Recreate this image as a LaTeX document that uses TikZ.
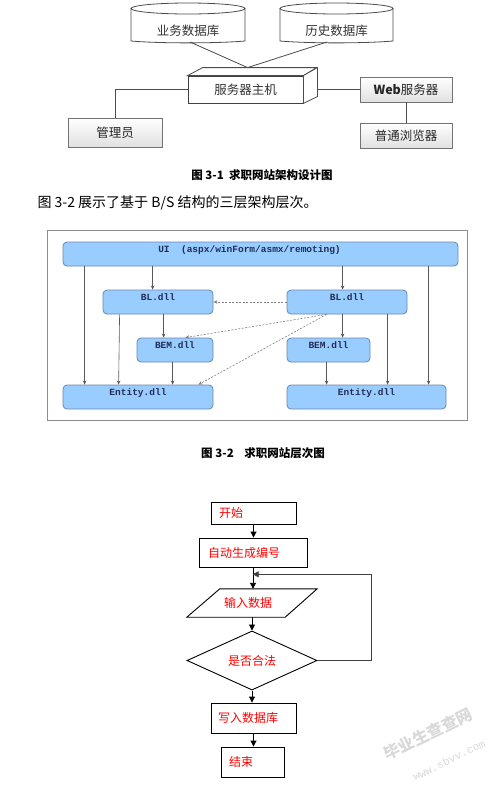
\documentclass[tikz,border=0pt]{standalone}
\usepackage{fontspec}
\usepackage{tikz}
\usetikzlibrary{shapes.geometric,arrows.meta,calc}
\newfontfamily\cjk{Noto Sans CJK SC}
\newfontfamily\mono{Liberation Mono}
\definecolor{layerblue}{RGB}{153,204,255}
\definecolor{layeredge}{RGB}{105,135,175}
\definecolor{layertext}{RGB}{35,45,85}
\tikzset{
  grayline/.style={draw=black!70, line width=0.8pt},
  dbtext/.style={font=\cjk\fontsize{12.5}{12.5}\selectfont, text=black!80},
  hostbox/.style={draw=black!75, line width=0.8pt, fill=white, minimum width=115pt,
    minimum height=27pt, inner sep=0pt, font=\cjk\fontsize{12.5}{12.5}\selectfont, text=black!80},
  greybox/.style={draw=black!55, line width=0.8pt, top color=white, bottom color=black!12,
    minimum width=92pt, minimum height=25pt, inner sep=0pt,
    font=\cjk\fontsize{12.5}{12.5}\selectfont, text=black!85},
  caption/.style={font=\cjk\bfseries\fontsize{11.5}{11.5}\selectfont},
  layerbox/.style={draw=layeredge, line width=0.8pt, fill=layerblue, rounded corners=4pt,
    minimum height=24pt, inner ysep=0pt, text height=6pt, text depth=9pt,
    font=\mono\bfseries\fontsize{9.5}{9.5}\selectfont, text=layertext},
  arr/.style={draw=black!65, line width=0.6pt, -{Stealth[length=4pt,width=3.5pt]}},
  dasharr/.style={arr, draw=black!50, dash pattern=on 2pt off 1.5pt},
  flowbox/.style={draw=black, line width=0.9pt, inner ysep=0pt, align=left, text=red,
    font=\cjk\fontsize{12}{12}\selectfont},
  flowarr/.style={draw=black, line width=0.9pt, -{Triangle[length=6pt,width=6pt]}}
}
\begin{document}
\begin{tikzpicture}[x=1pt,y=-1pt]
\useasboundingbox[fill=white] (0,0) rectangle (498,788);

% fig 3-1
\draw[grayline, fill=white] (131,8.5) -- (131,41) .. controls (160,43.5) and (216,43.5) .. (245,41) -- (245,8.5);
\draw[grayline, fill=white] (188,8.5) ellipse [x radius=57, y radius=5.5];
\draw[grayline, fill=white] (280,8.5) -- (280,41) .. controls (309,43.5) and (364,43.5) .. (393,41) -- (393,8.5);
\draw[grayline, fill=white] (336.5,8.5) ellipse [x radius=56.5, y radius=5.5];
\node[dbtext] (db1) at (188,31) {业务数据库};
\node[dbtext] (db2) at (336.5,31) {历史数据库};
\coordinate (db1foot) at (190,42);
\coordinate (db2foot) at (327,42);

\node[hostbox] (host) at (245.5,89.5) {服务器主机};
\draw[grayline, fill=white] (host.north west) -- ++(15,-8) -- ++(114,0) -- (host.north east) -- cycle;
\draw[grayline, fill=white] (host.north east) -- ++(14,-8) -- ++(0,29) -- (host.south east) -- cycle;
\coordinate (hub) at ($(host.north west)+(60,-8)$);
\coordinate (hostside) at ($(host.east)+(14,0)$);
\draw[grayline] (db1foot) -- (hub) -- (db2foot);

\node[greybox, minimum width=94pt, minimum height=29pt] (admin) at (115,132.5) {管理员};
\node[greybox] (web) at (406,89.5) {\textbf{Web}服务器};
\node[greybox] (browser) at (406,135.5) {普通浏览器};
\draw[grayline] (host.west) -| (admin.north);
\draw[grayline] (hostside) -- (web.west);
\draw[grayline] (web.south) -- (browser.north);

\node[caption] (cap1) at (262,175) {图 3-1\ \ 求职网站架构设计图};
\node[anchor=west, font=\cjk\fontsize{14}{14}\selectfont] (para) at (34,203)
  {图 3-2 展示了基于 B/S 结构的三层架构层次。};

% fig 3-2
\draw[draw=black!45, line width=1pt] (47,230) rectangle (467,420);
\node[layerbox, minimum width=395pt] (ui) at (260.5,254) {UI\ \ (aspx/winForm/asmx/remoting)\hspace*{22pt}};
\node[layerbox, minimum width=110pt] (blL) at (158,302) {BL.dll};
\node[layerbox, minimum width=120pt] (blR) at (347,302) {BL.dll};
\node[layerbox, minimum width=76pt] (bemL) at (175,350) {BEM.dll};
\node[layerbox, minimum width=83pt] (bemR) at (328.5,350) {BEM.dll};
\node[layerbox, minimum width=150pt] (entL) at (138,397) {Entity.dll};
\node[layerbox, minimum width=159pt] (entR) at (366.5,397) {Entity.dll};

\draw[arr] ($(ui.south west)+(22,0)$) -- ($(entL.north west)+(22,0)$);
\draw[arr] ($(ui.south west)+(90,0)$) -- ($(blL.north west)+(50,0)$);
\draw[arr] ($(ui.south west)+(280,0)$) -- ($(blR.north west)+(56,0)$);
\draw[arr] ($(ui.south west)+(366,0)$) -- ($(entR.north west)+(142,0)$);
\draw[arr] ($(blL.south west)+(17,0)$) -- ($(entL.north west)+(56,0)$);
\draw[arr] ($(blL.south west)+(61,0)$) -- ($(bemL.north west)+(27,0)$);
\draw[arr] ($(bemL.south west)+(36,0)$) -- ($(entL.north west)+(110,0)$);
\draw[arr] ($(blR.south west)+(56,0)$) -- ($(bemR.north west)+(56,0)$);
\draw[arr] ($(bemR.south west)+(40,0)$) -- ($(entR.north west)+(40,0)$);
\draw[arr] ($(blR.south west)+(101,0)$) -- ($(entR.north west)+(101,0)$);
\draw[dasharr] (blR.west) -- (blL.east);
\draw[dasharr] ($(blR.south west)+(40,0)$) -- ($(bemL.north east)+(-28,0)$);
\draw[dasharr] ($(blR.south west)+(40,0)$) -- ($(entL.north east)+(-15,0)$);

\node[caption] (cap2) at (263,453) {图 3-2\ \ \ \ 求职网站层次图};

% flow chart
\node[flowbox, minimum height=22pt, inner xsep=8pt, text width=69pt] (start) at (253.5,513) {开始};
\node[flowbox, minimum height=29pt, inner xsep=9pt, text width=90pt] (auto) at (253,552.5) {自动生成编号};
\node[minimum width=98pt, minimum height=28pt, inner sep=0pt, text=red,
  font=\cjk\fontsize{12}{12}\selectfont] (input) at (252,603) {\hspace*{-8pt}输入数据};
\draw[draw=black, line width=0.9pt] ($(input.north west)+(17,0)$) -- ($(input.north east)+(16,0)$)
  -- ($(input.south east)+(-16,0)$) -- ($(input.south west)+(-16,0)$) -- cycle;
\node[diamond, draw=black, line width=0.9pt, minimum width=130pt, minimum height=43pt,
  inner sep=0pt, text=red, font=\cjk\fontsize{12}{12}\selectfont] (check) at (252,660.5) {是否合法};
\node[flowbox, minimum height=30pt, inner xsep=7pt, text width=71pt] (write) at (253.5,718) {写入数据库};
\node[flowbox, minimum height=30pt, inner xsep=8pt, text width=47pt] (stop) at (252.5,762) {结束};

\draw[flowarr] (start.south) -- (start.south |- auto.north);
\draw[flowarr] (auto.south) -- (auto.south |- input.north);
\draw[flowarr] (input.south) -- (check.north);
\draw[flowarr] (check.south) -- (check.south |- write.north);
\draw[flowarr] (write.south) -- (write.south |- stop.north);
\draw[draw=black!75, line width=0.8pt, -{Triangle[length=6pt,width=6pt]}]
  (check.east) -- ++(54,0) |- ($(auto.south)!0.32!(input.north)$);

% watermark
\node[rotate=26, text=black!15, inner sep=0pt, font=\cjk\bfseries\fontsize{16}{16}\selectfont] (mark) at (428,734) {毕业生查查网};
\node[rotate=26, text=black!15, inner sep=0pt, font=\mono\fontsize{11}{11}\selectfont] (site) at (449,760) {www.sbvv.com};
\end{tikzpicture}
\end{document}
